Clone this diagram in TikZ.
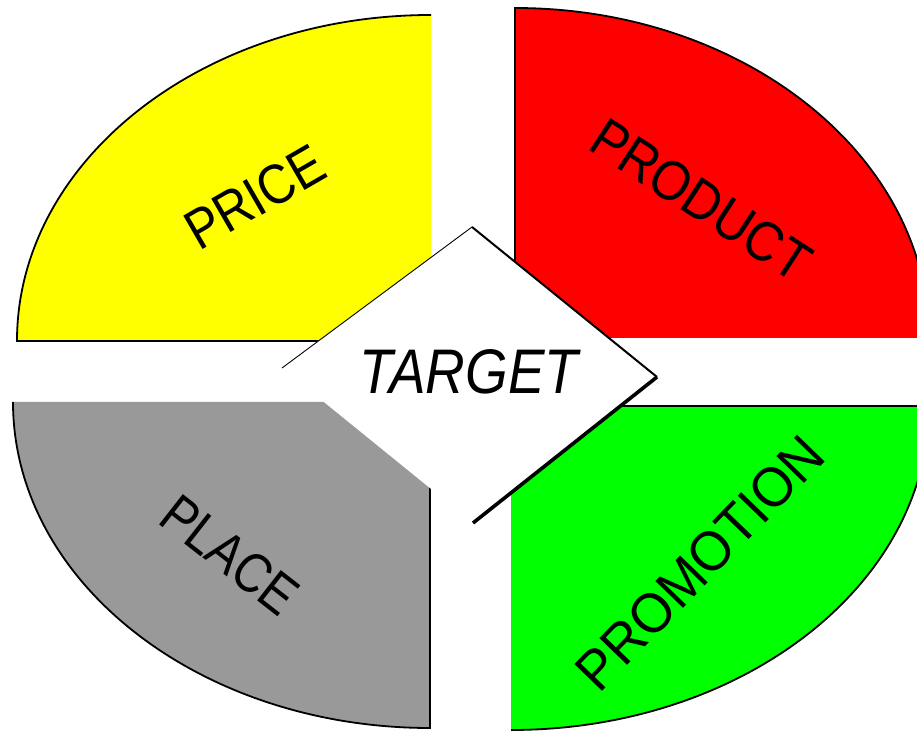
\documentclass[tikz,border=0pt]{standalone}
\usepackage{fontspec}
\setmainfont{Liberation Sans}
\definecolor{qyellow}{RGB}{255,255,0}
\definecolor{qred}{RGB}{255,0,0}
\definecolor{qgreen}{RGB}{0,255,0}
\definecolor{qgrey}{RGB}{153,153,153}
\begin{document}
\begin{tikzpicture}[x=1pt,y=1pt,
  lbl/.style={font=\fontsize{56}{60}\selectfont, inner sep=0pt, text=black},
  outl/.style={draw=black, line width=1.8pt, line join=miter}]
\useasboundingbox (0,0) rectangle (917,730);
\begin{scope}
\clip (0,0) rectangle (917,730);
% PRICE quadrant (yellow)
\fill[qyellow] (431,389) -- (17,389) arc[start angle=180,end angle=90,x radius=414pt,y radius=326pt] -- cycle;
\draw[outl] (431,389) -- (17,389) arc[start angle=180,end angle=90,x radius=414pt,y radius=326pt];
% PRODUCT quadrant (red)
\fill[qred] (515,392) -- (515,722) arc[start angle=90,end angle=0,x radius=414pt,y radius=330pt] -- cycle;
\draw[outl] (515,392) -- (515,722) arc[start angle=90,end angle=0,x radius=414pt,y radius=330pt];
% PROMOTION quadrant (green)
\fill[qgreen] (511,324) -- (929,324) arc[start angle=0,end angle=-90,x radius=418pt,y radius=324pt] -- cycle;
\draw[outl] (511,324) -- (929,324) arc[start angle=0,end angle=-90,x radius=418pt,y radius=324pt];
% PLACE quadrant (grey)
\fill[qgrey] (430,328) -- (430,2) arc[start angle=-90,end angle=-180,x radius=417pt,y radius=326pt] -- cycle;
\draw[outl] (430,328) -- (430,2) arc[start angle=-90,end angle=-180,x radius=417pt,y radius=326pt];
\end{scope}
% diamond
\coordinate (dl) at (282,362);
\coordinate (dt) at (472,503);
\coordinate (dr) at (657,353);
\coordinate (db) at (473,207);
\fill[white] (dl) -- (dt) -- (dr) -- (db) -- cycle;
\draw[line width=0.9pt] (dl) -- (dt);
\draw[line width=2pt] (dt) -- (dr);
\draw[line width=3.6pt] (dr) -- (db);
% labels
\node[lbl, rotate=30, xscale=0.88] (price) at (255,533) {PRICE};
\node[lbl, rotate=-33, xscale=0.9] (product) at (701,530) {PRODUCT};
\node[lbl, rotate=46, xscale=0.95] (promotion) at (700,167) {PROMOTION};
\node[lbl, rotate=-38, xscale=0.85] (place) at (230,175) {PLACE};
\node[lbl, font=\fontsize{63}{66}\selectfont\itshape, xscale=0.87] (target) at (469,358) {TARGET};
\end{tikzpicture}
\end{document}
